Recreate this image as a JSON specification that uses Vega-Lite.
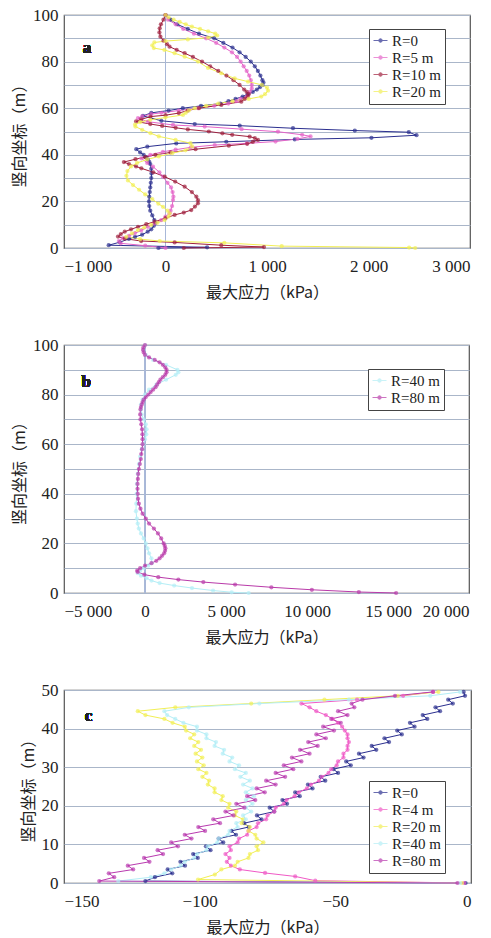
{
"$schema":"https://vega.github.io/schema/vega-lite/v6.json",
"padding":{"left":10,"top":5,"right":0,"bottom":4},
"background":"white",
"spacing":34,
"config":{
 "view":{"stroke":"#555555","strokeWidth":1.2},
 "axis":{"labelFont":"Liberation Serif","labelFontSize":17,"labelColor":"#222","labelOverlap":false,"titleFont":"Noto Sans CJK SC","titleFontSize":16,"titleFontWeight":"normal","titleColor":"#222","domain":false,"ticks":false,"gridColor":"#aab6c9","gridWidth":1},
 "legend":{"labelFont":"Liberation Serif","labelFontSize":15,"labelColor":"#222","strokeColor":"#444","fillColor":"white","padding":4,"rowPadding":1,"labelOffset":4,"symbolSize":196,"symbolStrokeWidth":1,"symbolType":"M-1,0H1M-0.25,0A0.25,0.25,0,1,0,0.25,0A0.25,0.25,0,1,0,-0.25,0Z","title":null}
},
"datasets":{
"a":[
{"s":"R=0","y":100,"x":0},{"s":"R=0","y":98,"x":50},{"s":"R=0","y":96,"x":115},{"s":"R=0","y":94,"x":220},{"s":"R=0","y":92,"x":330},{"s":"R=0","y":90,"x":480},{"s":"R=0","y":88,"x":570},{"s":"R=0","y":86,"x":660},{"s":"R=0","y":84,"x":730},{"s":"R=0","y":82,"x":790},{"s":"R=0","y":80,"x":840},{"s":"R=0","y":78,"x":880},{"s":"R=0","y":76,"x":910},{"s":"R=0","y":74,"x":935},{"s":"R=0","y":72,"x":955},{"s":"R=0","y":71,"x":965},{"s":"R=0","y":70,"x":955},{"s":"R=0","y":69,"x":930},{"s":"R=0","y":68,"x":900},{"s":"R=0","y":67,"x":860},{"s":"R=0","y":66,"x":810},{"s":"R=0","y":65,"x":760},{"s":"R=0","y":64,"x":690},{"s":"R=0","y":63,"x":620},{"s":"R=0","y":62,"x":540},{"s":"R=0","y":61,"x":350},{"s":"R=0","y":60,"x":170},{"s":"R=0","y":59,"x":30},{"s":"R=0","y":58,"x":-140},{"s":"R=0","y":56.7,"x":-222},{"s":"R=0","y":54.6,"x":-41},{"s":"R=0","y":53.2,"x":288},{"s":"R=0","y":52.5,"x":731},{"s":"R=0","y":51.4,"x":1256},{"s":"R=0","y":50.4,"x":1865},{"s":"R=0","y":49.7,"x":2397},{"s":"R=0","y":48.4,"x":2473},{"s":"R=0","y":47.3,"x":2029},{"s":"R=0","y":46.6,"x":1273},{"s":"R=0","y":45.6,"x":599},{"s":"R=0","y":44.9,"x":106},{"s":"R=0","y":43.5,"x":-179},{"s":"R=0","y":42.4,"x":-288},{"s":"R=0","y":41,"x":-250},{"s":"R=0","y":40,"x":-215},{"s":"R=0","y":39,"x":-195},{"s":"R=0","y":38,"x":-175},{"s":"R=0","y":37,"x":-160},{"s":"R=0","y":36,"x":-150},{"s":"R=0","y":34,"x":-140},{"s":"R=0","y":32,"x":-138},{"s":"R=0","y":30,"x":-140},{"s":"R=0","y":28,"x":-145},{"s":"R=0","y":26,"x":-150},{"s":"R=0","y":24,"x":-155},{"s":"R=0","y":22,"x":-160},{"s":"R=0","y":20,"x":-163},{"s":"R=0","y":18,"x":-160},{"s":"R=0","y":16,"x":-150},{"s":"R=0","y":14,"x":-130},{"s":"R=0","y":12,"x":-110},{"s":"R=0","y":10.7,"x":-99},{"s":"R=0","y":9.5,"x":-115},{"s":"R=0","y":8,"x":-140},{"s":"R=0","y":7,"x":-175},{"s":"R=0","y":5.7,"x":-230},{"s":"R=0","y":4.8,"x":-300},{"s":"R=0","y":3.9,"x":-361},{"s":"R=0","y":2.5,"x":-450},{"s":"R=0","y":1.2,"x":-560},{"s":"R=0","y":0.3,"x":410},{"s":"R=0","y":0,"x":-70},
{"s":"R=5 m","y":100,"x":0},{"s":"R=5 m","y":98,"x":25},{"s":"R=5 m","y":96,"x":100},{"s":"R=5 m","y":94,"x":175},{"s":"R=5 m","y":92,"x":280},{"s":"R=5 m","y":90,"x":400},{"s":"R=5 m","y":88,"x":500},{"s":"R=5 m","y":86,"x":580},{"s":"R=5 m","y":84,"x":655},{"s":"R=5 m","y":82,"x":705},{"s":"R=5 m","y":80,"x":740},{"s":"R=5 m","y":78,"x":770},{"s":"R=5 m","y":76,"x":800},{"s":"R=5 m","y":74,"x":825},{"s":"R=5 m","y":72,"x":840},{"s":"R=5 m","y":70,"x":850},{"s":"R=5 m","y":68.5,"x":850},{"s":"R=5 m","y":67,"x":830},{"s":"R=5 m","y":65,"x":800},{"s":"R=5 m","y":64,"x":740},{"s":"R=5 m","y":63,"x":700},{"s":"R=5 m","y":62,"x":620},{"s":"R=5 m","y":61,"x":480},{"s":"R=5 m","y":60,"x":320},{"s":"R=5 m","y":59,"x":130},{"s":"R=5 m","y":58,"x":-40},{"s":"R=5 m","y":57.5,"x":-140},{"s":"R=5 m","y":56.5,"x":-230},{"s":"R=5 m","y":55.7,"x":-271},{"s":"R=5 m","y":54.2,"x":-172},{"s":"R=5 m","y":52.8,"x":74},{"s":"R=5 m","y":52.1,"x":386},{"s":"R=5 m","y":51,"x":750},{"s":"R=5 m","y":49.9,"x":1108},{"s":"R=5 m","y":48.6,"x":1346},{"s":"R=5 m","y":47.9,"x":1429},{"s":"R=5 m","y":46.8,"x":1300},{"s":"R=5 m","y":45.7,"x":1084},{"s":"R=5 m","y":44.9,"x":800},{"s":"R=5 m","y":44.2,"x":485},{"s":"R=5 m","y":43.2,"x":250},{"s":"R=5 m","y":42.2,"x":100},{"s":"R=5 m","y":41.3,"x":-25},{"s":"R=5 m","y":40,"x":-150},{"s":"R=5 m","y":38.5,"x":-238},{"s":"R=5 m","y":36.5,"x":-180},{"s":"R=5 m","y":34.9,"x":-123},{"s":"R=5 m","y":32.5,"x":-60},{"s":"R=5 m","y":30.6,"x":-25},{"s":"R=5 m","y":28,"x":20},{"s":"R=5 m","y":26,"x":55},{"s":"R=5 m","y":24,"x":70},{"s":"R=5 m","y":22,"x":78},{"s":"R=5 m","y":20.6,"x":74},{"s":"R=5 m","y":18,"x":65},{"s":"R=5 m","y":16,"x":50},{"s":"R=5 m","y":14.9,"x":41},{"s":"R=5 m","y":13.5,"x":0},{"s":"R=5 m","y":12,"x":-41},{"s":"R=5 m","y":10.5,"x":-110},{"s":"R=5 m","y":9.1,"x":-172},{"s":"R=5 m","y":7.5,"x":-240},{"s":"R=5 m","y":6.3,"x":-303},{"s":"R=5 m","y":5.2,"x":-360},{"s":"R=5 m","y":4.2,"x":-419},{"s":"R=5 m","y":3,"x":-460},{"s":"R=5 m","y":2,"x":-440},{"s":"R=5 m","y":1,"x":-200},{"s":"R=5 m","y":0,"x":0},
{"s":"R=10 m","y":100,"x":0},{"s":"R=10 m","y":98,"x":-20},{"s":"R=10 m","y":96,"x":-45},{"s":"R=10 m","y":94.3,"x":-57},{"s":"R=10 m","y":92.5,"x":-60},{"s":"R=10 m","y":90.7,"x":-50},{"s":"R=10 m","y":89,"x":-20},{"s":"R=10 m","y":87.5,"x":15},{"s":"R=10 m","y":86.4,"x":40},{"s":"R=10 m","y":85,"x":110},{"s":"R=10 m","y":83.6,"x":189},{"s":"R=10 m","y":82,"x":270},{"s":"R=10 m","y":80,"x":360},{"s":"R=10 m","y":78,"x":440},{"s":"R=10 m","y":76,"x":520},{"s":"R=10 m","y":74,"x":600},{"s":"R=10 m","y":72,"x":670},{"s":"R=10 m","y":70,"x":730},{"s":"R=10 m","y":68,"x":775},{"s":"R=10 m","y":67,"x":800},{"s":"R=10 m","y":66,"x":820},{"s":"R=10 m","y":65,"x":810},{"s":"R=10 m","y":64,"x":780},{"s":"R=10 m","y":62.8,"x":747},{"s":"R=10 m","y":61.4,"x":550},{"s":"R=10 m","y":60,"x":330},{"s":"R=10 m","y":59,"x":220},{"s":"R=10 m","y":57.9,"x":131},{"s":"R=10 m","y":57,"x":0},{"s":"R=10 m","y":56.4,"x":-148},{"s":"R=10 m","y":55.2,"x":-240},{"s":"R=10 m","y":54.3,"x":-290},{"s":"R=10 m","y":53.2,"x":-150},{"s":"R=10 m","y":52.4,"x":-33},{"s":"R=10 m","y":51.6,"x":100},{"s":"R=10 m","y":50.9,"x":220},{"s":"R=10 m","y":50,"x":427},{"s":"R=10 m","y":49.2,"x":560},{"s":"R=10 m","y":48.6,"x":657},{"s":"R=10 m","y":47.8,"x":829},{"s":"R=10 m","y":47.2,"x":880},{"s":"R=10 m","y":46.4,"x":911},{"s":"R=10 m","y":45.5,"x":860},{"s":"R=10 m","y":44.7,"x":805},{"s":"R=10 m","y":43.9,"x":624},{"s":"R=10 m","y":42.4,"x":296},{"s":"R=10 m","y":41,"x":49},{"s":"R=10 m","y":40,"x":-99},{"s":"R=10 m","y":39,"x":-200},{"s":"R=10 m","y":38.1,"x":-296},{"s":"R=10 m","y":36.9,"x":-410},{"s":"R=10 m","y":36,"x":-360},{"s":"R=10 m","y":35,"x":-290},{"s":"R=10 m","y":34.2,"x":-238},{"s":"R=10 m","y":32.5,"x":-120},{"s":"R=10 m","y":30.6,"x":-8},{"s":"R=10 m","y":28.5,"x":95},{"s":"R=10 m","y":26.3,"x":189},{"s":"R=10 m","y":24,"x":260},{"s":"R=10 m","y":22,"x":304},{"s":"R=10 m","y":20.5,"x":320},{"s":"R=10 m","y":19.2,"x":320},{"s":"R=10 m","y":17.8,"x":290},{"s":"R=10 m","y":16.3,"x":254},{"s":"R=10 m","y":15.2,"x":180},{"s":"R=10 m","y":14.2,"x":90},{"s":"R=10 m","y":12.8,"x":0},{"s":"R=10 m","y":11.3,"x":-107},{"s":"R=10 m","y":10.2,"x":-190},{"s":"R=10 m","y":9.1,"x":-271},{"s":"R=10 m","y":8,"x":-340},{"s":"R=10 m","y":7,"x":-402},{"s":"R=10 m","y":6,"x":-440},{"s":"R=10 m","y":4.9,"x":-468},{"s":"R=10 m","y":4,"x":-400},{"s":"R=10 m","y":3,"x":-240},{"s":"R=10 m","y":2.4,"x":90},{"s":"R=10 m","y":1.2,"x":550},{"s":"R=10 m","y":0.4,"x":970},{"s":"R=10 m","y":0,"x":180},
{"s":"R=20 m","y":100,"x":0},{"s":"R=20 m","y":99,"x":30},{"s":"R=20 m","y":98,"x":80},{"s":"R=20 m","y":97,"x":140},{"s":"R=20 m","y":96,"x":200},{"s":"R=20 m","y":95,"x":260},{"s":"R=20 m","y":94,"x":340},{"s":"R=20 m","y":93,"x":420},{"s":"R=20 m","y":92,"x":490},{"s":"R=20 m","y":91.2,"x":510},{"s":"R=20 m","y":90.3,"x":420},{"s":"R=20 m","y":89.5,"x":220},{"s":"R=20 m","y":88.8,"x":0},{"s":"R=20 m","y":88.2,"x":-110},{"s":"R=20 m","y":87,"x":-130},{"s":"R=20 m","y":85.8,"x":-115},{"s":"R=20 m","y":85,"x":-10},{"s":"R=20 m","y":83.6,"x":90},{"s":"R=20 m","y":82.1,"x":189},{"s":"R=20 m","y":80,"x":320},{"s":"R=20 m","y":77.3,"x":419},{"s":"R=20 m","y":75,"x":550},{"s":"R=20 m","y":72.8,"x":682},{"s":"R=20 m","y":71.4,"x":813},{"s":"R=20 m","y":70,"x":950},{"s":"R=20 m","y":68.8,"x":1000},{"s":"R=20 m","y":67.5,"x":1010},{"s":"R=20 m","y":66,"x":980},{"s":"R=20 m","y":65,"x":944},{"s":"R=20 m","y":64,"x":820},{"s":"R=20 m","y":63,"x":660},{"s":"R=20 m","y":62,"x":520},{"s":"R=20 m","y":61,"x":400},{"s":"R=20 m","y":60,"x":290},{"s":"R=20 m","y":59,"x":230},{"s":"R=20 m","y":58,"x":200},{"s":"R=20 m","y":57.1,"x":172},{"s":"R=20 m","y":56,"x":0},{"s":"R=20 m","y":55,"x":-150},{"s":"R=20 m","y":54,"x":-250},{"s":"R=20 m","y":53,"x":-300},{"s":"R=20 m","y":52.1,"x":-296},{"s":"R=20 m","y":50.7,"x":-230},{"s":"R=20 m","y":49.3,"x":-148},{"s":"R=20 m","y":47.9,"x":-66},{"s":"R=20 m","y":46.4,"x":99},{"s":"R=20 m","y":45,"x":246},{"s":"R=20 m","y":43.6,"x":263},{"s":"R=20 m","y":41.9,"x":197},{"s":"R=20 m","y":40.7,"x":66},{"s":"R=20 m","y":39.3,"x":-66},{"s":"R=20 m","y":38,"x":-180},{"s":"R=20 m","y":36.5,"x":-280},{"s":"R=20 m","y":35,"x":-340},{"s":"R=20 m","y":33,"x":-375},{"s":"R=20 m","y":31,"x":-385},{"s":"R=20 m","y":29,"x":-370},{"s":"R=20 m","y":27,"x":-320},{"s":"R=20 m","y":25,"x":-260},{"s":"R=20 m","y":23,"x":-200},{"s":"R=20 m","y":21,"x":-130},{"s":"R=20 m","y":19,"x":-70},{"s":"R=20 m","y":17.7,"x":-25},{"s":"R=20 m","y":16,"x":20},{"s":"R=20 m","y":14.9,"x":41},{"s":"R=20 m","y":13.5,"x":30},{"s":"R=20 m","y":12,"x":-8},{"s":"R=20 m","y":10.8,"x":-80},{"s":"R=20 m","y":9.9,"x":-140},{"s":"R=20 m","y":8.8,"x":-210},{"s":"R=20 m","y":7.7,"x":-271},{"s":"R=20 m","y":6.3,"x":-330},{"s":"R=20 m","y":4.8,"x":-386},{"s":"R=20 m","y":3.8,"x":-250},{"s":"R=20 m","y":3,"x":-57},{"s":"R=20 m","y":2.2,"x":580},{"s":"R=20 m","y":0.8,"x":1145},{"s":"R=20 m","y":0.2,"x":2400},{"s":"R=20 m","y":0,"x":2460}
],
"b":[
{"s":"R=40 m","y":100,"x":0},{"s":"R=40 m","y":98,"x":-80},{"s":"R=40 m","y":96,"x":50},{"s":"R=40 m","y":94,"x":500},{"s":"R=40 m","y":92,"x":1300},{"s":"R=40 m","y":90,"x":2000},{"s":"R=40 m","y":89,"x":2060},{"s":"R=40 m","y":88,"x":1900},{"s":"R=40 m","y":86,"x":1300},{"s":"R=40 m","y":84,"x":700},{"s":"R=40 m","y":82,"x":250},{"s":"R=40 m","y":80,"x":0},{"s":"R=40 m","y":78,"x":-150},{"s":"R=40 m","y":76,"x":-250},{"s":"R=40 m","y":74,"x":-250},{"s":"R=40 m","y":72,"x":-200},{"s":"R=40 m","y":70,"x":-80},{"s":"R=40 m","y":68,"x":50},{"s":"R=40 m","y":66,"x":100},{"s":"R=40 m","y":64,"x":80},{"s":"R=40 m","y":62,"x":0},{"s":"R=40 m","y":60,"x":-100},{"s":"R=40 m","y":58,"x":-200},{"s":"R=40 m","y":55,"x":-300},{"s":"R=40 m","y":52,"x":-380},{"s":"R=40 m","y":48,"x":-450},{"s":"R=40 m","y":44,"x":-500},{"s":"R=40 m","y":40,"x":-520},{"s":"R=40 m","y":36,"x":-540},{"s":"R=40 m","y":33,"x":-560},{"s":"R=40 m","y":30,"x":-500},{"s":"R=40 m","y":28,"x":-450},{"s":"R=40 m","y":26,"x":-380},{"s":"R=40 m","y":24,"x":-250},{"s":"R=40 m","y":22,"x":-80},{"s":"R=40 m","y":20,"x":50},{"s":"R=40 m","y":18,"x":150},{"s":"R=40 m","y":16,"x":250},{"s":"R=40 m","y":14,"x":400},{"s":"R=40 m","y":12,"x":420},{"s":"R=40 m","y":11,"x":200},{"s":"R=40 m","y":10,"x":-100},{"s":"R=40 m","y":9,"x":-300},{"s":"R=40 m","y":8,"x":-450},{"s":"R=40 m","y":7,"x":-250},{"s":"R=40 m","y":6,"x":100},{"s":"R=40 m","y":5,"x":400},{"s":"R=40 m","y":4,"x":900},{"s":"R=40 m","y":3,"x":1800},{"s":"R=40 m","y":2,"x":2900},{"s":"R=40 m","y":1,"x":4200},{"s":"R=40 m","y":0.3,"x":5350},{"s":"R=40 m","y":0,"x":6400},
{"s":"R=80 m","y":100,"x":0},{"s":"R=80 m","y":99,"x":-100},{"s":"R=80 m","y":98,"x":-120},{"s":"R=80 m","y":97,"x":-80},{"s":"R=80 m","y":96,"x":0},{"s":"R=80 m","y":95,"x":250},{"s":"R=80 m","y":94,"x":600},{"s":"R=80 m","y":93,"x":900},{"s":"R=80 m","y":92,"x":1100},{"s":"R=80 m","y":91,"x":1250},{"s":"R=80 m","y":90,"x":1330},{"s":"R=80 m","y":89,"x":1330},{"s":"R=80 m","y":88,"x":1250},{"s":"R=80 m","y":87,"x":1100},{"s":"R=80 m","y":86,"x":950},{"s":"R=80 m","y":85,"x":850},{"s":"R=80 m","y":84,"x":750},{"s":"R=80 m","y":83,"x":650},{"s":"R=80 m","y":82,"x":500},{"s":"R=80 m","y":81,"x":350},{"s":"R=80 m","y":80,"x":200},{"s":"R=80 m","y":79,"x":50},{"s":"R=80 m","y":78,"x":-80},{"s":"R=80 m","y":77,"x":-150},{"s":"R=80 m","y":76,"x":-200},{"s":"R=80 m","y":75,"x":-250},{"s":"R=80 m","y":74,"x":-280},{"s":"R=80 m","y":72,"x":-300},{"s":"R=80 m","y":70,"x":-280},{"s":"R=80 m","y":68,"x":-230},{"s":"R=80 m","y":66,"x":-180},{"s":"R=80 m","y":64,"x":-160},{"s":"R=80 m","y":62,"x":-150},{"s":"R=80 m","y":60,"x":-150},{"s":"R=80 m","y":58,"x":-180},{"s":"R=80 m","y":56,"x":-230},{"s":"R=80 m","y":54,"x":-260},{"s":"R=80 m","y":52,"x":-320},{"s":"R=80 m","y":50,"x":-380},{"s":"R=80 m","y":48,"x":-420},{"s":"R=80 m","y":46,"x":-440},{"s":"R=80 m","y":44,"x":-460},{"s":"R=80 m","y":42,"x":-460},{"s":"R=80 m","y":40,"x":-450},{"s":"R=80 m","y":38,"x":-430},{"s":"R=80 m","y":36,"x":-380},{"s":"R=80 m","y":34,"x":-280},{"s":"R=80 m","y":32,"x":-150},{"s":"R=80 m","y":30,"x":50},{"s":"R=80 m","y":28,"x":250},{"s":"R=80 m","y":26,"x":550},{"s":"R=80 m","y":24,"x":800},{"s":"R=80 m","y":22,"x":1000},{"s":"R=80 m","y":20,"x":1150},{"s":"R=80 m","y":19,"x":1220},{"s":"R=80 m","y":18,"x":1260},{"s":"R=80 m","y":17,"x":1240},{"s":"R=80 m","y":16,"x":1180},{"s":"R=80 m","y":15,"x":1050},{"s":"R=80 m","y":14,"x":900},{"s":"R=80 m","y":13,"x":700},{"s":"R=80 m","y":12,"x":400},{"s":"R=80 m","y":11,"x":0},{"s":"R=80 m","y":10,"x":-300},{"s":"R=80 m","y":9,"x":-480},{"s":"R=80 m","y":8.5,"x":-450},{"s":"R=80 m","y":7.4,"x":-40},{"s":"R=80 m","y":6.4,"x":820},{"s":"R=80 m","y":5.4,"x":2060},{"s":"R=80 m","y":4.4,"x":3600},{"s":"R=80 m","y":3.4,"x":5560},{"s":"R=80 m","y":2.3,"x":7800},{"s":"R=80 m","y":1.3,"x":10300},{"s":"R=80 m","y":0.4,"x":13200},{"s":"R=80 m","y":0,"x":15500}
],
"c":[
{"s":"R=0","y":0,"x":-2},{"s":"R=0","y":0.5,"x":-120},{"s":"R=0","y":1.5,"x":-116.5},{"s":"R=0","y":2.5,"x":-110.1},{"s":"R=0","y":3.5,"x":-111.8},{"s":"R=0","y":4.5,"x":-105.4},{"s":"R=0","y":5.5,"x":-107.1},{"s":"R=0","y":6.5,"x":-100.7},{"s":"R=0","y":7.5,"x":-102.4},{"s":"R=0","y":8.5,"x":-96},{"s":"R=0","y":9.5,"x":-97.7},{"s":"R=0","y":10.5,"x":-91.3},{"s":"R=0","y":11.5,"x":-93},{"s":"R=0","y":12.5,"x":-86.6},{"s":"R=0","y":13.5,"x":-88.3},{"s":"R=0","y":14.5,"x":-81.9},{"s":"R=0","y":15.5,"x":-83.6},{"s":"R=0","y":16.5,"x":-77.2},{"s":"R=0","y":17.5,"x":-78.9},{"s":"R=0","y":18.5,"x":-72.5},{"s":"R=0","y":19.5,"x":-74.2},{"s":"R=0","y":20.5,"x":-67.8},{"s":"R=0","y":21.5,"x":-69.5},{"s":"R=0","y":22.5,"x":-63.1},{"s":"R=0","y":23.5,"x":-64.8},{"s":"R=0","y":24.5,"x":-58.4},{"s":"R=0","y":25.5,"x":-60.1},{"s":"R=0","y":26.5,"x":-53.7},{"s":"R=0","y":27.5,"x":-55.4},{"s":"R=0","y":28.5,"x":-49},{"s":"R=0","y":29.5,"x":-50.7},{"s":"R=0","y":30.5,"x":-44.3},{"s":"R=0","y":31.5,"x":-46},{"s":"R=0","y":32.5,"x":-39.6},{"s":"R=0","y":33.5,"x":-41.3},{"s":"R=0","y":34.5,"x":-34.9},{"s":"R=0","y":35.5,"x":-36.6},{"s":"R=0","y":36.5,"x":-30.2},{"s":"R=0","y":37.5,"x":-31.9},{"s":"R=0","y":38.5,"x":-25.5},{"s":"R=0","y":39.5,"x":-27.2},{"s":"R=0","y":40.5,"x":-20.8},{"s":"R=0","y":41.5,"x":-22.5},{"s":"R=0","y":42.5,"x":-16.1},{"s":"R=0","y":43.5,"x":-17.8},{"s":"R=0","y":44.5,"x":-11.4},{"s":"R=0","y":45.5,"x":-13.1},{"s":"R=0","y":46.5,"x":-6.7},{"s":"R=0","y":47.5,"x":-8.4},{"s":"R=0","y":48.5,"x":-2.2},{"s":"R=0","y":49.5,"x":-2.7},
{"s":"R=4 m","y":0,"x":-2.5},{"s":"R=4 m","y":0.6,"x":-57.4},{"s":"R=4 m","y":1.7,"x":-64.8},{"s":"R=4 m","y":2.6,"x":-75.9},{"s":"R=4 m","y":3.5,"x":-85.2},{"s":"R=4 m","y":4.5,"x":-88.5},{"s":"R=4 m","y":5.5,"x":-90},{"s":"R=4 m","y":6.5,"x":-89},{"s":"R=4 m","y":7.5,"x":-90.5},{"s":"R=4 m","y":8.5,"x":-88.5},{"s":"R=4 m","y":9.5,"x":-89},{"s":"R=4 m","y":10.5,"x":-86},{"s":"R=4 m","y":11.5,"x":-85.5},{"s":"R=4 m","y":12.5,"x":-82.5},{"s":"R=4 m","y":13.5,"x":-82},{"s":"R=4 m","y":14.5,"x":-79},{"s":"R=4 m","y":15.5,"x":-78.5},{"s":"R=4 m","y":16.5,"x":-75.5},{"s":"R=4 m","y":17.5,"x":-75},{"s":"R=4 m","y":18.5,"x":-72.5},{"s":"R=4 m","y":19.5,"x":-72},{"s":"R=4 m","y":20.5,"x":-69},{"s":"R=4 m","y":21.5,"x":-68},{"s":"R=4 m","y":22.5,"x":-65},{"s":"R=4 m","y":23.5,"x":-63.5},{"s":"R=4 m","y":24.5,"x":-60.5},{"s":"R=4 m","y":25.5,"x":-59},{"s":"R=4 m","y":26.5,"x":-56},{"s":"R=4 m","y":27.5,"x":-55},{"s":"R=4 m","y":28.5,"x":-52.5},{"s":"R=4 m","y":29.5,"x":-51.5},{"s":"R=4 m","y":30.5,"x":-49.5},{"s":"R=4 m","y":31.5,"x":-49},{"s":"R=4 m","y":32.5,"x":-47},{"s":"R=4 m","y":33.5,"x":-47},{"s":"R=4 m","y":34.5,"x":-45.5},{"s":"R=4 m","y":35.5,"x":-45.5},{"s":"R=4 m","y":36.5,"x":-45},{"s":"R=4 m","y":37.5,"x":-45.5},{"s":"R=4 m","y":38.5,"x":-45.5},{"s":"R=4 m","y":39.5,"x":-46.5},{"s":"R=4 m","y":40.5,"x":-47.5},{"s":"R=4 m","y":41.5,"x":-49},{"s":"R=4 m","y":42.5,"x":-51},{"s":"R=4 m","y":43.5,"x":-53.5},{"s":"R=4 m","y":44.5,"x":-57},{"s":"R=4 m","y":45.5,"x":-59.5},{"s":"R=4 m","y":46.5,"x":-62.5},{"s":"R=4 m","y":47.5,"x":-42},{"s":"R=4 m","y":48.5,"x":-25},{"s":"R=4 m","y":49.5,"x":-14},
{"s":"R=20 m","y":0,"x":-3.3},{"s":"R=20 m","y":0.9,"x":-100.6},{"s":"R=20 m","y":2.2,"x":-94.4},{"s":"R=20 m","y":3.5,"x":-92},{"s":"R=20 m","y":4.5,"x":-87},{"s":"R=20 m","y":5.5,"x":-86},{"s":"R=20 m","y":6.5,"x":-82},{"s":"R=20 m","y":7.5,"x":-81.5},{"s":"R=20 m","y":8.5,"x":-78.5},{"s":"R=20 m","y":9.5,"x":-79},{"s":"R=20 m","y":10.5,"x":-76.5},{"s":"R=20 m","y":11.5,"x":-79},{"s":"R=20 m","y":12.5,"x":-79.5},{"s":"R=20 m","y":13.5,"x":-82},{"s":"R=20 m","y":14.5,"x":-81.5},{"s":"R=20 m","y":15.5,"x":-84.5},{"s":"R=20 m","y":16.5,"x":-84},{"s":"R=20 m","y":17.5,"x":-87},{"s":"R=20 m","y":18.5,"x":-86.5},{"s":"R=20 m","y":19.5,"x":-89.5},{"s":"R=20 m","y":20.5,"x":-89},{"s":"R=20 m","y":21.5,"x":-92},{"s":"R=20 m","y":22.5,"x":-91.5},{"s":"R=20 m","y":23.5,"x":-94.5},{"s":"R=20 m","y":24.5,"x":-94.5},{"s":"R=20 m","y":25.5,"x":-97},{"s":"R=20 m","y":26.5,"x":-96.5},{"s":"R=20 m","y":27.5,"x":-99},{"s":"R=20 m","y":28.5,"x":-97.5},{"s":"R=20 m","y":29.5,"x":-100.5},{"s":"R=20 m","y":30.5,"x":-98.5},{"s":"R=20 m","y":31.5,"x":-101},{"s":"R=20 m","y":32.5,"x":-99},{"s":"R=20 m","y":33.5,"x":-101.5},{"s":"R=20 m","y":34.5,"x":-99.5},{"s":"R=20 m","y":35.5,"x":-102},{"s":"R=20 m","y":36.5,"x":-100.5},{"s":"R=20 m","y":37.5,"x":-103.5},{"s":"R=20 m","y":38.5,"x":-102},{"s":"R=20 m","y":39.5,"x":-105},{"s":"R=20 m","y":40.5,"x":-105.5},{"s":"R=20 m","y":41.5,"x":-110},{"s":"R=20 m","y":42.5,"x":-113},{"s":"R=20 m","y":43.5,"x":-120},{"s":"R=20 m","y":44.5,"x":-122.8},{"s":"R=20 m","y":45.5,"x":-109},{"s":"R=20 m","y":46.5,"x":-81},{"s":"R=20 m","y":47.5,"x":-54},{"s":"R=20 m","y":48.5,"x":-27},{"s":"R=20 m","y":49.5,"x":-12},
{"s":"R=40 m","y":0,"x":-4},{"s":"R=40 m","y":0.5,"x":-130},{"s":"R=40 m","y":1.5,"x":-118},{"s":"R=40 m","y":2.5,"x":-113},{"s":"R=40 m","y":3.5,"x":-110.5},{"s":"R=40 m","y":4.5,"x":-107},{"s":"R=40 m","y":5.5,"x":-105.5},{"s":"R=40 m","y":6.5,"x":-102},{"s":"R=40 m","y":7.5,"x":-101},{"s":"R=40 m","y":8.5,"x":-97.5},{"s":"R=40 m","y":9.5,"x":-97},{"s":"R=40 m","y":10.5,"x":-93.5},{"s":"R=40 m","y":11.5,"x":-93},{"s":"R=40 m","y":12.5,"x":-89.5},{"s":"R=40 m","y":13.5,"x":-89},{"s":"R=40 m","y":14.5,"x":-86},{"s":"R=40 m","y":15.5,"x":-86.5},{"s":"R=40 m","y":16.5,"x":-83},{"s":"R=40 m","y":17.5,"x":-84},{"s":"R=40 m","y":18.5,"x":-81},{"s":"R=40 m","y":19.5,"x":-83},{"s":"R=40 m","y":20.5,"x":-80.5},{"s":"R=40 m","y":21.5,"x":-83},{"s":"R=40 m","y":22.5,"x":-80},{"s":"R=40 m","y":23.5,"x":-83},{"s":"R=40 m","y":24.5,"x":-80.5},{"s":"R=40 m","y":25.5,"x":-84},{"s":"R=40 m","y":26.5,"x":-81.5},{"s":"R=40 m","y":27.5,"x":-85},{"s":"R=40 m","y":28.5,"x":-83},{"s":"R=40 m","y":29.5,"x":-87},{"s":"R=40 m","y":30.5,"x":-85.5},{"s":"R=40 m","y":31.5,"x":-89},{"s":"R=40 m","y":32.5,"x":-88},{"s":"R=40 m","y":33.5,"x":-91.5},{"s":"R=40 m","y":34.5,"x":-91},{"s":"R=40 m","y":35.5,"x":-94.5},{"s":"R=40 m","y":36.5,"x":-94},{"s":"R=40 m","y":37.5,"x":-97.5},{"s":"R=40 m","y":38.5,"x":-97.5},{"s":"R=40 m","y":39.5,"x":-101},{"s":"R=40 m","y":40.5,"x":-101},{"s":"R=40 m","y":41.5,"x":-106},{"s":"R=40 m","y":42.5,"x":-109},{"s":"R=40 m","y":43.5,"x":-112},{"s":"R=40 m","y":44.5,"x":-113},{"s":"R=40 m","y":45.5,"x":-104},{"s":"R=40 m","y":46.5,"x":-78},{"s":"R=40 m","y":47.5,"x":-45},{"s":"R=40 m","y":48.5,"x":-15},{"s":"R=40 m","y":49.5,"x":-4},
{"s":"R=80 m","y":0,"x":-5},{"s":"R=80 m","y":0.5,"x":-137},{"s":"R=80 m","y":1.5,"x":-131.5},{"s":"R=80 m","y":2.5,"x":-133.5},{"s":"R=80 m","y":3.5,"x":-124.5},{"s":"R=80 m","y":4.5,"x":-126.5},{"s":"R=80 m","y":5.5,"x":-118.5},{"s":"R=80 m","y":6.5,"x":-120.5},{"s":"R=80 m","y":7.5,"x":-113.5},{"s":"R=80 m","y":8.5,"x":-115.5},{"s":"R=80 m","y":9.5,"x":-108},{"s":"R=80 m","y":10.5,"x":-110.5},{"s":"R=80 m","y":11.5,"x":-103},{"s":"R=80 m","y":12.5,"x":-105.5},{"s":"R=80 m","y":13.5,"x":-98},{"s":"R=80 m","y":14.5,"x":-100.5},{"s":"R=80 m","y":15.5,"x":-92.5},{"s":"R=80 m","y":16.5,"x":-95},{"s":"R=80 m","y":17.5,"x":-87.5},{"s":"R=80 m","y":18.5,"x":-90.5},{"s":"R=80 m","y":19.5,"x":-83.5},{"s":"R=80 m","y":20.5,"x":-86.5},{"s":"R=80 m","y":21.5,"x":-79.5},{"s":"R=80 m","y":22.5,"x":-82.5},{"s":"R=80 m","y":23.5,"x":-76},{"s":"R=80 m","y":24.5,"x":-79},{"s":"R=80 m","y":25.5,"x":-72},{"s":"R=80 m","y":26.5,"x":-75.5},{"s":"R=80 m","y":27.5,"x":-68.5},{"s":"R=80 m","y":28.5,"x":-72},{"s":"R=80 m","y":29.5,"x":-65.5},{"s":"R=80 m","y":30.5,"x":-69},{"s":"R=80 m","y":31.5,"x":-62.5},{"s":"R=80 m","y":32.5,"x":-66},{"s":"R=80 m","y":33.5,"x":-59.5},{"s":"R=80 m","y":34.5,"x":-63},{"s":"R=80 m","y":35.5,"x":-56.5},{"s":"R=80 m","y":36.5,"x":-60},{"s":"R=80 m","y":37.5,"x":-53.5},{"s":"R=80 m","y":38.5,"x":-57},{"s":"R=80 m","y":39.5,"x":-50.5},{"s":"R=80 m","y":40.5,"x":-54.5},{"s":"R=80 m","y":41.5,"x":-48},{"s":"R=80 m","y":42.5,"x":-51.5},{"s":"R=80 m","y":43.5,"x":-45.5},{"s":"R=80 m","y":44.5,"x":-49},{"s":"R=80 m","y":45.5,"x":-43},{"s":"R=80 m","y":46.5,"x":-44},{"s":"R=80 m","y":47.5,"x":-40},{"s":"R=80 m","y":48.5,"x":-28},{"s":"R=80 m","y":49.5,"x":-14}
]
},
"resolve":{"scale":{"x":"independent","y":"independent","fill":"independent","stroke":"independent"},"axis":{"x":"independent","y":"independent"},"legend":{"fill":"independent","stroke":"independent"}},
"vconcat":[
{"width":406,"height":233,"data":{"name":"a"},
 "encoding":{
  "x":{"field":"x","type":"quantitative","scale":{"domain":[-1000,3000],"nice":false,"zero":false},"axis":{"title":"最大应力（kPa）","values":[-1000,0,1000,2000,3000],"grid":false,"labelFont":"Liberation Serif","labelExpr":"replace(format(datum.value, ','), ',', ' ')","labelPadding":10,"titlePadding":10}},
  "y":{"field":"y","type":"quantitative","scale":{"domain":[0,100],"nice":false,"zero":false},"axis":{"title":"竖向坐标（m）","values":[0,10,20,30,40,50,60,70,80,90,100],"labelFont":"Liberation Serif","labelExpr":"datum.value % 20 == 0 ? datum.label : ''","grid":true,"labelPadding":6,"titlePadding":5}}
 },
 "layer":[
  {"mark":{"type":"rule","color":"#a8b8d8","strokeWidth":0.8},"encoding":{"x":{"datum":0,"type":"quantitative"},"y":{"datum":0,"type":"quantitative"},"y2":{"datum":100}}},
  {"mark":{"type":"line","strokeWidth":1},
   "encoding":{
    "order":{"field":"y","type":"quantitative"},
    "stroke":{"field":"s","type":"nominal","scale":{"domain":["R=0","R=5 m","R=10 m","R=20 m"],"range":["#2b2f8f","#e463c8","#a01f3d","#f2ef55"]},"legend":{"orient":"none","legendX":305,"legendY":14}}
   }},
  {"mark":{"type":"point","filled":true,"size":18,"strokeWidth":0},
   "encoding":{
    "fill":{"field":"s","type":"nominal","scale":{"domain":["R=0","R=5 m","R=10 m","R=20 m"],"range":["#2b2f8f","#e463c8","#a01f3d","#f2ef55"]},"legend":{"orient":"none","legendX":305,"legendY":14}}
   }},
  {"mark":{"type":"text","text":"a","font":"Liberation Serif","fontWeight":"bold","fontSize":17,"color":"#222"},"encoding":{"x":{"datum":-773,"type":"quantitative"},"y":{"datum":86,"type":"quantitative"}}}
 ]},
{"width":405,"height":248,"data":{"name":"b"},
 "encoding":{
  "x":{"field":"x","type":"quantitative","scale":{"domain":[-5000,20000],"nice":false,"zero":false},"axis":{"title":"最大应力（kPa）","values":[-5000,0,5000,10000,15000,20000],"grid":false,"labelFont":"Liberation Serif","labelExpr":"replace(format(datum.value, ','), ',', ' ')","labelPadding":10,"titlePadding":10}},
  "y":{"field":"y","type":"quantitative","scale":{"domain":[0,100],"nice":false,"zero":false},"axis":{"title":"竖向坐标（m）","values":[0,10,20,30,40,50,60,70,80,90,100],"labelFont":"Liberation Serif","labelExpr":"datum.value % 20 == 0 ? datum.label : ''","grid":true,"labelPadding":6,"titlePadding":5}}
 },
 "layer":[
  {"mark":{"type":"rule","color":"#a8b8d8","strokeWidth":0.8},"encoding":{"x":{"datum":0,"type":"quantitative"},"y":{"datum":0,"type":"quantitative"},"y2":{"datum":100}}},
  {"mark":{"type":"line","strokeWidth":1},
   "encoding":{
    "order":{"field":"y","type":"quantitative"},
    "stroke":{"field":"s","type":"nominal","scale":{"domain":["R=40 m","R=80 m"],"range":["#b4eef6","#b93aa9"]},"legend":{"orient":"none","legendX":304,"legendY":24}}
   }},
  {"mark":{"type":"point","filled":true,"size":18,"strokeWidth":0},
   "encoding":{
    "fill":{"field":"s","type":"nominal","scale":{"domain":["R=40 m","R=80 m"],"range":["#b4eef6","#b93aa9"]},"legend":{"orient":"none","legendX":304,"legendY":24}}
   }},
  {"mark":{"type":"text","text":"b","font":"Liberation Serif","fontWeight":"bold","fontSize":17,"color":"#222"},"encoding":{"x":{"datum":-3620,"type":"quantitative"},"y":{"datum":85,"type":"quantitative"}}}
 ]},
{"width":407,"height":193,"data":{"name":"c"},
 "encoding":{
  "x":{"field":"x","type":"quantitative","scale":{"domain":[-150,0],"nice":false,"zero":false},"axis":{"title":"最大应力（kPa）","values":[-150,-100,-50,0],"grid":false,"labelFont":"Liberation Serif","labelPadding":10,"titlePadding":10}},
  "y":{"field":"y","type":"quantitative","scale":{"domain":[0,50],"nice":false,"zero":false},"axis":{"title":"竖向坐标（m）","values":[0,10,20,30,40,50],"tickCount":6,"labelFont":"Liberation Serif","labelExpr":"datum.label","grid":true,"labelPadding":6,"titlePadding":5}}
 },
 "layer":[
  {"mark":{"type":"line","strokeWidth":1},
   "encoding":{
    "order":{"field":"y","type":"quantitative"},
    "stroke":{"field":"s","type":"nominal","scale":{"domain":["R=0","R=4 m","R=20 m","R=40 m","R=80 m"],"range":["#2b2f8f","#f059c6","#f2ef55","#b4eef6","#b93aaf"]},"legend":{"orient":"none","legendX":305,"legendY":91}}
   }},
  {"mark":{"type":"point","filled":true,"size":18,"strokeWidth":0},
   "encoding":{
    "fill":{"field":"s","type":"nominal","scale":{"domain":["R=0","R=4 m","R=20 m","R=40 m","R=80 m"],"range":["#2b2f8f","#f059c6","#f2ef55","#b4eef6","#b93aaf"]},"legend":{"orient":"none","legendX":305,"legendY":91}}
   }},
  {"mark":{"type":"text","text":"c","font":"Liberation Serif","fontWeight":"bold","fontSize":17,"color":"#222"},"encoding":{"x":{"datum":-141,"type":"quantitative"},"y":{"datum":43.2,"type":"quantitative"}}}
 ]}
]
}
